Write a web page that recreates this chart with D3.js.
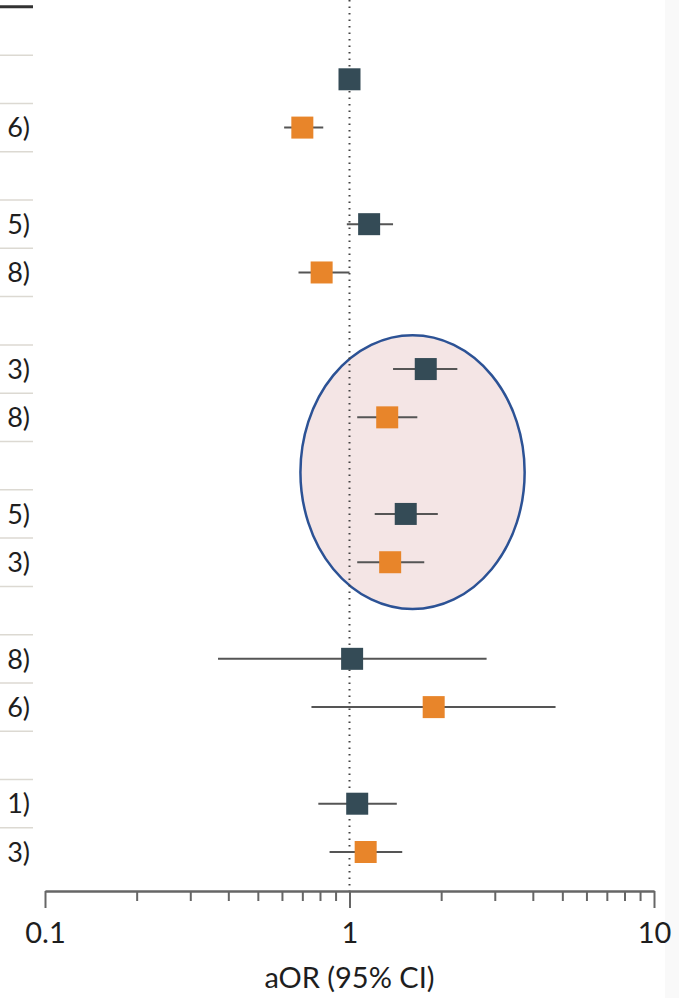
<!DOCTYPE html>
<html>
<head>
<meta charset="utf-8">
<script src="https://cdn.jsdelivr.net/npm/d3@7"></script>
<style>
  body { margin: 0; background: #fff; }
  svg { display: block; font-family: Lato, "Open Sans", sans-serif; }
</style>
</head>
<body>
<svg id="chart" width="685" height="998"></svg>
<script>
// row index of each estimate (header rows sit in between)
var rowIdx = [1, 2, 4, 5, 7, 8, 10, 11, 13, 14, 16, 17];
var series = ["a", "b", "a", "b", "a", "b", "a", "b", "a", "b", "a", "b"];
var aor = [1.00, 0.70, 1.16, 0.81, 1.78, 1.33, 1.53, 1.36, 1.02, 1.89, 1.06, 1.13];
var ciLow = [null, 0.61, 0.98, 0.68, 1.39, 1.06, 1.21, 1.06, 0.37, 0.75, 0.79, 0.86];
var ciHigh = [null, 0.82, 1.39, 1.00, 2.26, 1.67, 1.95, 1.76, 2.82, 4.75, 1.43, 1.49];
// text column: only the right end of each entry is inside the crop
var rowText = ["", "", "6)", "", "5)", "8)", "", "3)", "8)", "", "5)", "3)", "",
    "8)", "6)", "", "1)", "3)"];
var majorTicks = [0.1, 1, 10];
var minorTicks = [0.2, 0.3, 0.4, 0.5, 0.6, 0.7, 0.8, 0.9, 2, 3, 4, 5, 6, 7, 8, 9];
var nRows = 18;

var colors = { a: "#344b56", b: "#e8852a" };

var svg = d3.select("#chart"),
    axisY = 891,
    boxSize = 22;

var x = d3.scaleLog().domain([0.1, 10]).range([45, 654]);
var y = d3.scaleLinear().domain([0, nRows - 1]).range([31, 852]);

var data = rowIdx.map(function (r, i) {
    return { row: r, s: series[i], or: aor[i], lo: ciLow[i], hi: ciHigh[i] };
});

// light strip on the right edge
svg.append("rect")
    .attr("x", 665).attr("y", 0)
    .attr("width", 14).attr("height", 998)
    .attr("fill", "#f9f9f9");

// left table column: rules + text
var sep = d3.range(nRows).map(function (k) { return k - 0.5; });
svg.append("g")
    .selectAll("line")
    .data(sep)
    .enter()
    .append("line")
    .attr("x1", 0).attr("x2", 33)
    .attr("y1", (d) => y(d)).attr("y2", (d) => y(d))
    .attr("stroke", (d, i) => i == 0 ? "#333" : "#dcd9d2")
    .attr("stroke-width", (d, i) => i == 0 ? 3 : 1.5);

svg.append("g")
    .selectAll("text")
    .data(rowText)
    .enter()
    .append("text")
    .attr("x", 30)
    .attr("y", (d, i) => y(i))
    .attr("dy", "0.36em")
    .attr("text-anchor", "end")
    .attr("font-size", 27)
    .attr("fill", "#1e1e1e")
    .text((d) => d);

// highlight ellipse
var eX0 = x(0.69), eX1 = x(3.76), eY0 = y(6.3), eY1 = y(11.97);
svg.append("ellipse")
    .attr("cx", (eX0 + eX1) / 2)
    .attr("cy", (eY0 + eY1) / 2)
    .attr("rx", (eX1 - eX0) / 2)
    .attr("ry", (eY1 - eY0) / 2)
    .attr("fill", "#f4e5e5")
    .attr("stroke", "#2c5295")
    .attr("stroke-width", 2.5);

// null line
svg.append("line")
    .attr("x1", x(1)).attr("x2", x(1))
    .attr("y1", 0).attr("y2", axisY)
    .attr("stroke", "#444")
    .attr("stroke-width", 2)
    .attr("stroke-dasharray", "1.6,4.9");

// CIs
svg.append("g")
    .selectAll("line")
    .data(data.filter((d) => d.lo != null))
    .enter()
    .append("line")
    .attr("x1", (d) => x(d.lo)).attr("x2", (d) => x(d.hi))
    .attr("y1", (d) => y(d.row)).attr("y2", (d) => y(d.row))
    .attr("stroke", "#555")
    .attr("stroke-width", 2);

// point estimates
svg.append("g")
    .selectAll("rect")
    .data(data)
    .enter()
    .append("rect")
    .attr("x", (d) => x(d.or) - boxSize / 2)
    .attr("y", (d) => y(d.row) - boxSize / 2)
    .attr("width", boxSize).attr("height", boxSize)
    .attr("fill", (d) => colors[d.s]);

// axis
var gAxis = svg.append("g").attr("transform", `translate(0,${axisY})`);
gAxis.call(d3.axisBottom(x).tickValues(minorTicks).tickSize(10).tickSizeOuter(0).tickFormat(""));
gAxis.append("g").call(d3.axisBottom(x).tickValues(majorTicks).tickSize(17).tickSizeOuter(0)
    .tickPadding(14).tickFormat(d3.format("")));
gAxis.selectAll("path,line").attr("stroke", "#666").attr("stroke-width", 2);
gAxis.selectAll("text")
    .attr("font-size", 29)
    .attr("font-family", "Lato, \"Open Sans\", sans-serif")
    .attr("fill", "#1e1e1e");

svg.append("text")
    .attr("x", x(1))
    .attr("y", 988)
    .attr("text-anchor", "middle")
    .attr("font-size", 29)
    .attr("fill", "#1e1e1e")
    .text("aOR (95% CI)");
</script>
</body>
</html>
